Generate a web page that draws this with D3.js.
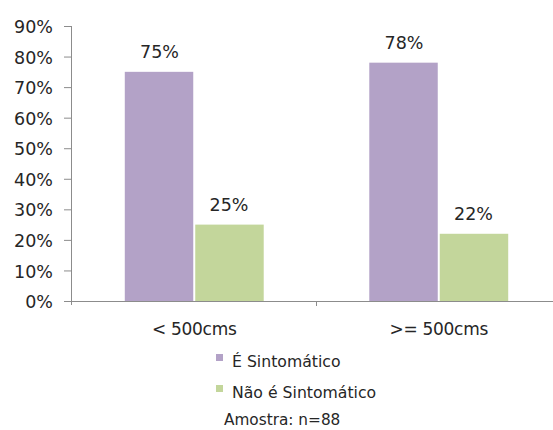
<!DOCTYPE html>
<html>
<head>
<meta charset="utf-8">
<script src="https://cdn.jsdelivr.net/npm/d3@7"></script>
<style>
  html, body { margin: 0; padding: 0; background: #fff; }
  svg { display: block; }
  text { font-family: "DejaVu Sans", Verdana, sans-serif; fill: #262626; }
</style>
</head>
<body>
<svg id="chart" width="553" height="430"></svg>
<script>
// Percentage of symptomatic / non-symptomatic cases by size group
const categories = ["< 500cms", ">= 500cms"];
const seriesNames = ["É Sintomático", "Não é Sintomático"];
const sintomatico = [75, 78];
const naoSintomatico = [25, 22];
const yTicks = [0, 10, 20, 30, 40, 50, 60, 70, 80, 90];
const sampleNote = "Amostra: n=88";

const colors = ["#B3A2C7", "#C3D69B"];
const seriesValues = [sintomatico, naoSintomatico];

const svg = d3.select("#chart");

const y = d3.scaleLinear().domain([0, 90]).range([301, 26]);
const x0 = d3.scaleBand().domain(categories).range([72, 561]).padding(0);
const x1 = d3.scaleBand().domain(seriesNames).range([0, x0.bandwidth()])
  .paddingInner(0).paddingOuter(0.76);

// Y axis
const yAxis = d3.axisLeft(y)
  .tickValues(yTicks)
  .tickFormat(d => d + "%")
  .tickSize(8)
  .tickPadding(11);
const yg = svg.append("g").attr("transform", "translate(72,0)").call(yAxis);
yg.select(".domain").attr("stroke", "#8c8c8c").attr("d", "M-0.5,26V305");
yg.selectAll(".tick line").attr("stroke", "#8c8c8c");
yg.selectAll(".tick text")
  .style("font-size", "17.5px")
  .style("font-family", "'DejaVu Sans', Verdana, sans-serif")
  .attr("fill", "#262626")
  .attr("dy", "0.38em");

// Bars
categories.forEach((cat, ci) => {
  seriesNames.forEach((s, si) => {
    const v = seriesValues[si][ci];
    const bx = x0(cat) + x1(s);
    const bw = x1.bandwidth();
    svg.append("rect")
      .attr("x", bx + (si === 0 ? 0 : 1))
      .attr("y", y(v))
      .attr("width", bw - 1)
      .attr("height", y(0) - y(v))
      .attr("fill", colors[si]);
    svg.append("text")
      .attr("x", bx + bw / 2)
      .attr("y", y(v) - 14)
      .attr("text-anchor", "middle")
      .style("font-size", "17.5px")
      .text(v + "%");
  });
});

// X axis
const xAxis = d3.axisBottom(x0).tickSize(0).tickFormat("");
const xg = svg.append("g").attr("transform", "translate(0,301)").call(xAxis);
xg.select(".domain").attr("stroke", "#8c8c8c").attr("d", "M72,0.5H561");
xg.selectAll(".tick").remove();
// category separator
[categories[1]].forEach(c => {
  svg.append("line")
    .attr("x1", x0(c)).attr("x2", x0(c))
    .attr("y1", 301).attr("y2", 306)
    .attr("stroke", "#8c8c8c");
});
categories.forEach(c => {
  svg.append("text")
    .attr("x", x0(c) + x0.bandwidth() / 2)
    .attr("y", 335)
    .attr("text-anchor", "middle")
    .style("font-size", "17px")
    .style("letter-spacing", "-0.3px")
    .text(c);
});

// Legend
const legendRows = [367, 398];
seriesNames.forEach((s, i) => {
  svg.append("rect")
    .attr("x", 216).attr("y", legendRows[i] - 13)
    .attr("width", 7).attr("height", 7)
    .attr("fill", colors[i]);
  svg.append("text")
    .attr("x", 232).attr("y", legendRows[i])
    .style("font-size", "15.7px")
    .text(s);
});
svg.append("text")
  .attr("x", 224).attr("y", 425)
  .style("font-size", "15.3px")
  .text(sampleNote);
</script>
</body>
</html>
